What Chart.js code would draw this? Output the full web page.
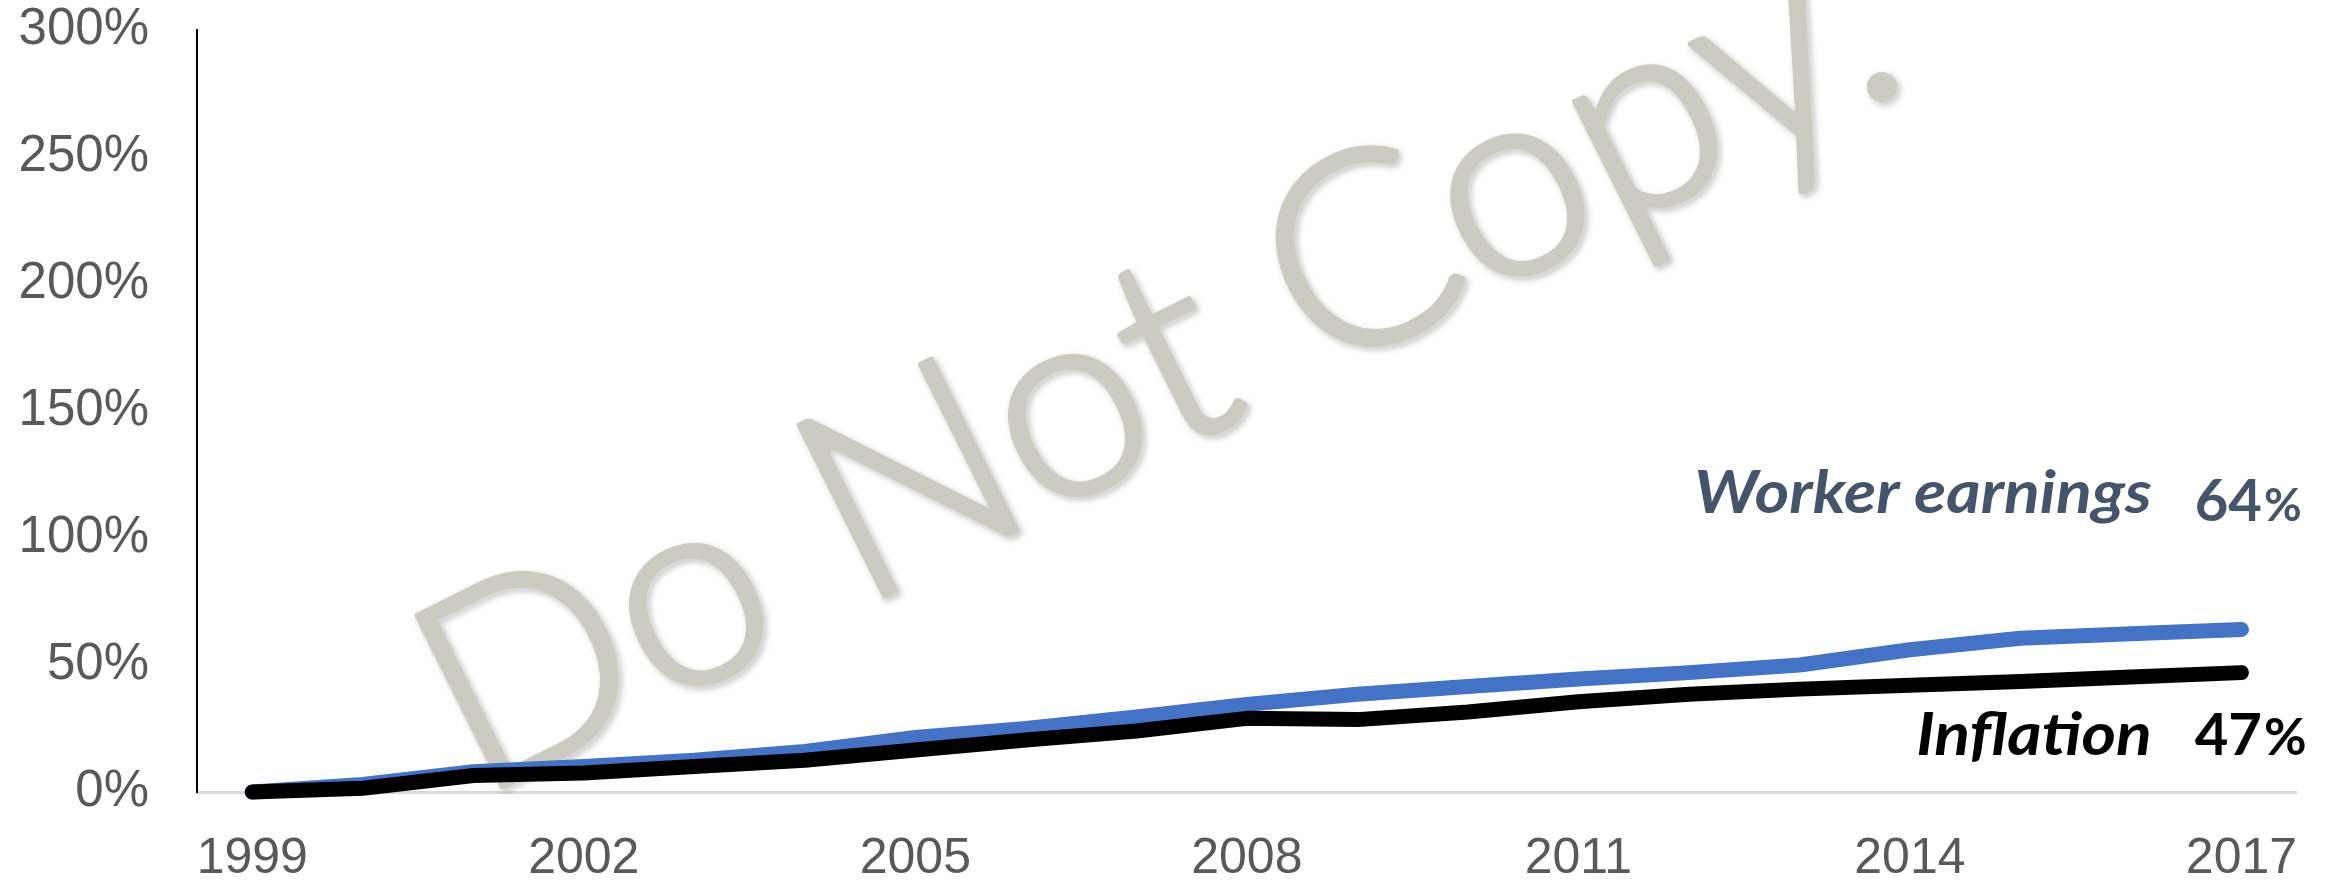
<!DOCTYPE html>
<html>
<head>
<meta charset="utf-8">
<title>Worker earnings vs inflation</title>
<script src="https://cdn.jsdelivr.net/npm/chart.js@4.4.1/dist/chart.umd.min.js"></script>
<style>
  html, body { margin: 0; padding: 0; background: #fff; }
  canvas { display: block; }
</style>
</head>
<body>
<canvas id="grafica" width="2335" height="881"></canvas>
<script>
const anios = ['1999', '2000', '2001', '2002', '2003', '2004', '2005', '2006', '2007', '2008',
               '2009', '2010', '2011', '2012', '2013', '2014', '2015', '2016', '2017']

// crecimiento acumulado desde 1999, en %
const salarios = [0, 3, 8, 10, 12.5, 16, 21.5, 25, 29.5, 34.5, 38.5, 41.5, 44.5, 47, 50, 56, 60.5, 62.3, 64]
const inflacion = [0, 1.5, 6.5, 7.5, 10, 12.5, 16.5, 20.5, 24, 29, 28.5, 31.5, 35.5, 38.5, 40.5, 42, 43.5, 45.3, 47]

const etiquetas = [
    { nombre: 'Worker earnings', valor: '64', color: '#44546a', dy: -116, dyValor: 8, pct: 46 },
    { nombre: 'Inflation', valor: '47', color: '#000000', dy: 82, dyValor: 0, pct: 52 }
]

const ctx = document.getElementById('grafica').getContext('2d')

// marca de agua detras de las lineas
const marcaAgua = {
    id: 'marcaAgua',
    beforeDatasetsDraw(chart) {
        const c = chart.ctx
        c.save()
        c.translate(477, 799)
        c.rotate(-26.5 * Math.PI / 180)
        c.font = '300 270px Lato, "Open Sans", sans-serif'
        c.fillStyle = '#cbcbc1'
        c.strokeStyle = '#cbcbc1'
        c.lineWidth = 5
        c.lineJoin = 'round'
        c.shadowColor = 'rgba(0, 0, 0, 0.28)'
        c.shadowBlur = 6
        c.shadowOffsetX = 3
        c.shadowOffsetY = 3
        c.textBaseline = 'alphabetic'
        c.strokeText('Do Not Copy.', 0, 0)
        c.shadowColor = 'transparent'
        c.fillText('Do Not Copy.', 0, 0)
        c.restore()
    }
}

// nombre y valor final de cada serie, a la derecha
const rotulos = {
    id: 'rotulos',
    afterDatasetsDraw(chart) {
        const c = chart.ctx
        const right = chart.chartArea.right
        etiquetas.forEach((et, i) => {
            const meta = chart.getDatasetMeta(i)
            const ultimo = meta.data[meta.data.length - 1]
            const y = ultimo.y + et.dy
            c.save()
            c.fillStyle = et.color
            c.textBaseline = 'alphabetic'

            // nombre de la serie, un poco ensanchado
            c.save()
            c.translate(right - 145, y)
            c.scale(1.12, 1)
            c.textAlign = 'right'
            c.font = 'italic bold 59px Lato, sans-serif'
            c.fillText(et.nombre, 0, 0)
            c.restore()

            const x0 = right - 102
            const yv = y + et.dyValor
            c.textAlign = 'left'
            c.font = 'bold 58px Lato, sans-serif'
            c.fillText(et.valor, x0, yv)
            const w = c.measureText(et.valor).width
            c.font = 'bold ' + et.pct + 'px Lato, sans-serif'
            c.fillText('%', x0 + w + 2, yv)
            c.restore()
        })
    }
}

const render = new Chart(ctx, {
    type: 'line',
    data: {
        labels: anios,
        datasets: [{
            label: 'Worker earnings',
            data: salarios,
            borderColor: '#4472c4',
            backgroundColor: '#4472c4',
            borderWidth: 15,
            borderCapStyle: 'round',
            borderJoinStyle: 'round',
            pointRadius: 0,
            tension: 0,
            clip: false,
            order: 1
        }, {
            label: 'Inflation',
            data: inflacion,
            borderColor: '#000000',
            backgroundColor: '#000000',
            borderWidth: 15,
            borderCapStyle: 'round',
            borderJoinStyle: 'round',
            pointRadius: 0,
            tension: 0,
            clip: false,
            order: 0
        }]
    },
    options: {
        responsive: false,
        devicePixelRatio: 1,
        animation: false,
        layout: {
            padding: { top: 30, right: 35, left: 0, bottom: 0 }
        },
        plugins: {
            legend: { display: false },
            tooltip: { enabled: false }
        },
        scales: {
            x: {
                offset: true,
                grid: { display: false, drawTicks: false },
                border: { display: true, color: '#d9d9d9', width: 3 },
                ticks: {
                    autoSkip: false,
                    maxRotation: 0,
                    padding: 37,
                    color: '#595959',
                    font: { family: '"Liberation Sans Narrow", "Liberation Sans", Arial', size: 50 },
                    callback: (val, i) => i % 3 === 0 ? anios[i] : ''
                },
                afterFit: (s) => {
                    s.height = 89
                    s.paddingTop = 0
                    s.paddingBottom = 0
                }
            },
            y: {
                min: 0,
                max: 300,
                grid: { display: false, drawTicks: false },
                border: { display: true, color: '#000000', width: 2 },
                ticks: {
                    stepSize: 50,
                    padding: 48,
                    color: '#595959',
                    font: { family: '"Liberation Sans", Arial', size: 51 },
                    callback: (v) => v + '%'
                },
                afterFit: (s) => {
                    s.width = 197
                    s.paddingTop = 0
                    s.paddingBottom = 0
                }
            }
        }
    },
    plugins: [marcaAgua, rotulos]
})
</script>
</body>
</html>
